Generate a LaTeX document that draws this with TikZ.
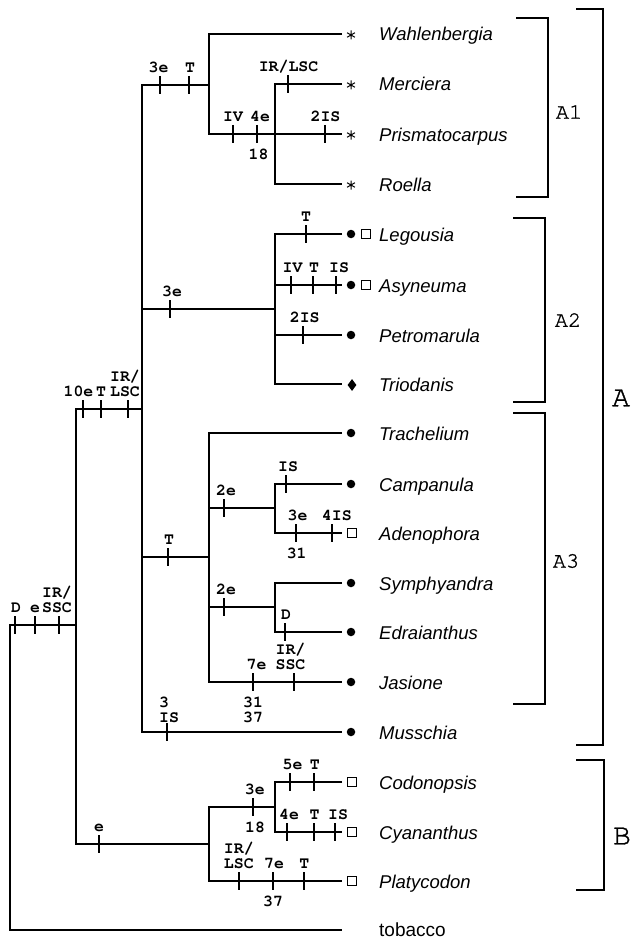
\documentclass[tikz,border=0pt]{standalone}
\usepackage{fontspec}
\setmainfont{Liberation Sans}
\newfontfamily\monof{texgyrecursor}[Extension=.otf, UprightFont=*-regular, BoldFont=*-bold, ItalicFont=*-italic, BoldItalicFont=*-bolditalic]
\newfontfamily\cladef{texgyrecursor}[Extension=.otf, UprightFont=*-regular, FakeBold=1.2]
\usetikzlibrary{shapes.geometric}
\newcounter{lc}
\newcommand\tk[2]{\draw[tkline] (#1,#2-9) -- (#1,#2+9);}
\newcommand\lbl[3]{\stepcounter{lc}\node[lab] (lab\arabic{lc}) at (#1,#2) {#3};}
\newcommand\up[3]{\lbl{#1}{#2-12.5}{#3}}
\newcommand\upp[3]{\lbl{#1}{#2-28}{#3}}
\newcommand\dn[3]{\lbl{#1}{#2+25}{#3}}
\newcommand\dnn[3]{\lbl{#1}{#2+40}{#3}}
\begin{document}
\begin{tikzpicture}[x=1pt,y=-1pt,
  branch/.style={line width=2pt, line join=miter},
  tkline/.style={line width=2pt},
  brk/.style={line width=2pt, line join=miter},
  lab/.style={font=\monof\bfseries\fontsize{16.5}{16}\selectfont, inner sep=0, anchor=base},
  taxon/.style={font=\itshape\fontsize{18.5}{20}\selectfont, anchor=base west, inner sep=0},
  clade/.style={font=\cladef\fontsize{22}{22}\selectfont, inner sep=0},
  bigclade/.style={font=\cladef\fontsize{30}{30}\selectfont, inner sep=0},
  dot/.style={circle, fill=black, inner sep=0, minimum size=8.5pt},
  sq/.style={rectangle, draw=black, line width=1.2pt, inner sep=0, minimum size=8.5pt},
  dia/.style={diamond, fill=black, inner sep=0, minimum width=9pt, minimum height=12pt},
  ast/.pic={\draw[line width=1pt] (0,-4.5) -- (0,4.5) (-3.9,-2.25) -- (3.9,2.25) (-3.9,2.25) -- (3.9,-2.25);}
]
\useasboundingbox (0,0) rectangle (631,939);

% leaf tips
\coordinate (wah) at (342,34);
\coordinate (mer) at (342,84);
\coordinate (pri) at (342,134);
\coordinate (roe) at (342,184);
\coordinate (leg) at (342,234);
\coordinate (asy) at (342,285);
\coordinate (pet) at (342,335);
\coordinate (tri) at (342,384);
\coordinate (tra) at (342,433);
\coordinate (cam) at (342,484);
\coordinate (ade) at (342,533);
\coordinate (sym) at (342,583);
\coordinate (edr) at (342,632);
\coordinate (jas) at (342,682);
\coordinate (mus) at (342,732);
\coordinate (cod) at (342,782);
\coordinate (cya) at (342,832);
\coordinate (pla) at (342,881);
\coordinate (tob) at (342,930);

% internal nodes
\coordinate (root) at (10,777);
\coordinate (ing) at (76,625);
\coordinate (nA) at (142,409);
\coordinate (nA1) at (209,85);
\coordinate (nA1b) at (275,134);
\coordinate (nA2) at (275,309);
\coordinate (nA3) at (209,557);
\coordinate (nCA) at (275,508);
\coordinate (nSE) at (275,607);
\coordinate (nB) at (209,844);
\coordinate (nB1) at (275,807);

% branches
\draw[branch] (ing) -| (root) |- (tob);
\draw[branch] (nA) -| (ing) |- (nB);
\draw[branch] (nA1) -| (nA) |- (mus);
\draw[branch] (nA |- nA2) -- (nA2);
\draw[branch] (nA |- nA3) -- (nA3);
\draw[branch] (wah) -| (nA1) |- (nA1b);
\draw[branch] (mer) -| (nA1b) |- (roe);
\draw[branch] (nA1b |- pri) -- (pri);
\draw[branch] (leg) -| (nA2) |- (tri);
\draw[branch] (nA2 |- asy) -- (asy);
\draw[branch] (nA2 |- pet) -- (pet);
\draw[branch] (tra) -| (nA3) |- (jas);
\draw[branch] (nA3 |- nCA) -- (nCA);
\draw[branch] (nA3 |- nSE) -- (nSE);
\draw[branch] (cam) -| (nCA) |- (ade);
\draw[branch] (sym) -| (nSE) |- (edr);
\draw[branch] (nB1) -| (nB) |- (pla);
\draw[branch] (cod) -| (nB1) |- (cya);

% ticks and labels
% root -> ingroup
\tk{15}{625}\tk{35}{625}\tk{59}{625}
\up{16}{625}{D}\up{35}{625}{e}\up{57}{625}{SSC}\upp{57}{625}{IR/}
% ingroup -> A
\tk{83}{409}\tk{101}{409}\tk{128}{409}
\up{78.5}{409}{10e}\up{101}{409}{T}\up{125}{409}{LSC}\upp{125}{409}{IR/}
% ingroup -> B
\tk{99}{844}\up{99}{844}{e}
% A -> A1
\tk{160}{85}\tk{189}{85}\up{158.5}{85}{3e}\up{190}{85}{T}
% A -> A2
\tk{170}{309}\up{172}{309}{3e}
% A -> A3
\tk{168}{557}\up{169}{557}{T}
% A -> Musschia
\tk{167}{732}
\stepcounter{lc}\node[lab, anchor=base west] (lab\arabic{lc}) at (159,722) {IS};
\stepcounter{lc}\node[lab, anchor=base west] (lab\arabic{lc}) at (159,707) {3};
% A1 -> A1b
\tk{233}{134}\tk{257}{134}\up{233}{134}{IV}\up{260}{134}{4e}\dn{258.5}{134}{18}
% Merciera, Prismatocarpus
\tk{288}{84}\up{288.5}{84}{IR/LSC}
\tk{325}{134}\up{325.5}{134}{2IS}
% A2
\tk{306}{234}\up{306}{234}{T}
\tk{291}{285}\tk{313}{285}\tk{336}{285}
\up{292.5}{285}{IV}\up{314}{285}{T}\up{339}{285}{IS}
\tk{303}{335}\up{304.7}{335}{2IS}
% A3
\tk{224}{508}\up{226}{508}{2e}
\tk{224}{607}\up{226}{607}{2e}
\tk{253}{682}\tk{294}{682}
\up{256.5}{682}{7e}\up{290.5}{682}{SSC}\upp{290.5}{682}{IR/}
\dn{253}{682}{31}\dnn{253}{682}{37}
\tk{286}{484}\up{288}{484}{IS}
\tk{296}{533}\tk{332}{533}\up{297.5}{533}{3e}\up{336.8}{533}{4IS}\dn{296.7}{533}{31}
\tk{285}{632}\up{286}{632}{D}
% B
\tk{253}{807}\up{254.8}{807}{3e}\dn{255}{807}{18}
\tk{239}{881}\tk{273}{881}\tk{304}{881}
\up{238.8}{881}{LSC}\upp{238.8}{881}{IR/}\up{274}{881}{7e}\up{304.3}{881}{T}\dn{273}{881}{37}
\tk{290}{782}\tk{314}{782}\up{292.5}{782}{5e}\up{314.8}{782}{T}
\tk{287}{832}\tk{314}{832}\tk{335}{832}\up{289}{832}{4e}\up{314.5}{832}{T}\up{338}{832}{IS}

% markers
\pic at (351,35) {ast};
\pic at (351,85) {ast};
\pic at (351,135) {ast};
\pic at (351,185) {ast};
\node[dot] (mleg) at (351,234) {};
\node[sq] (sleg) at (366,234) {};
\node[dot] (masy) at (351,285) {};
\node[sq] (sasy) at (366,285) {};
\node[dot] (mpet) at (351,335) {};
\node[dia] (mtri) at (352,385) {};
\node[dot] (mtra) at (351,433) {};
\node[dot] (mcam) at (351,484) {};
\node[sq] (made) at (352,533) {};
\node[dot] (msym) at (351,583) {};
\node[dot] (medr) at (351,632) {};
\node[dot] (mjas) at (351,682) {};
\node[dot] (mmus) at (351,732) {};
\node[sq] (mcod) at (352,782) {};
\node[sq] (mcya) at (352,832) {};
\node[sq] (mpla) at (352,881) {};

% taxa
\node[taxon] (twah) at (379,41) {Wahlenbergia};
\node[taxon] (tmer) at (379,91) {Merciera};
\node[taxon] (tpri) at (379,141) {Prismatocarpus};
\node[taxon] (troe) at (379,191) {Roella};
\node[taxon] (tleg) at (379,241) {Legousia};
\node[taxon] (tasy) at (379,292) {Asyneuma};
\node[taxon] (tpet) at (379,342) {Petromarula};
\node[taxon] (ttri) at (379,391) {Triodanis};
\node[taxon] (ttra) at (379,440) {Trachelium};
\node[taxon] (tcam) at (379,491) {Campanula};
\node[taxon] (tade) at (379,540) {Adenophora};
\node[taxon] (tsym) at (379,590) {Symphyandra};
\node[taxon] (tedr) at (379,639) {Edraianthus};
\node[taxon] (tjas) at (379,689) {Jasione};
\node[taxon] (tmus) at (379,739) {Musschia};
\node[taxon] (tcod) at (379,789) {Codonopsis};
\node[taxon] (tcya) at (379,839) {Cyananthus};
\node[taxon] (tpla) at (379,888) {Platycodon};
\node[taxon, font=\fontsize{19}{20}\selectfont] (ttob) at (379,936) {tobacco};

% brackets
\draw[brk] (516,18) -- (548,18) -- (548,197) -- (516,197);
\draw[brk] (513,218) -- (545,218) -- (545,402) -- (513,402);
\draw[brk] (513,413) -- (545,413) -- (545,704) -- (513,704);
\draw[brk] (576,9) -- (603,9) -- (603,745) -- (576,745);
\draw[brk] (576,760) -- (604,760) -- (604,890) -- (576,890);
\node[clade] (cA1) at (569,112) {A1};
\node[clade] (cA2) at (568,320) {A2};
\node[clade] (cA3) at (566,561) {A3};
\node[bigclade] (cA) at (621,398) {A};
\node[bigclade] (cB) at (622,836) {B};
\end{tikzpicture}
\end{document}
